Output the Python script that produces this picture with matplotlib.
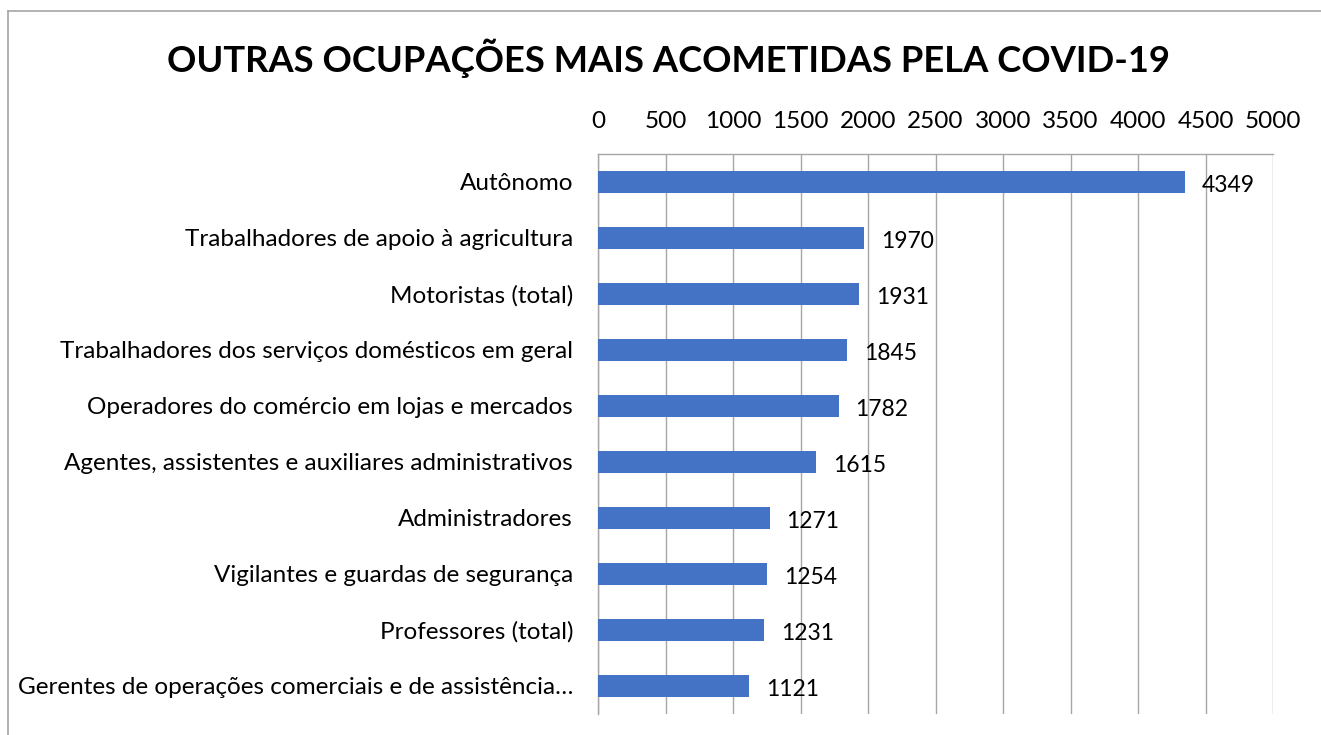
import matplotlib.pyplot as plt

# dados do gráfico
ocupacoes = [
    "Autônomo",
    "Trabalhadores de apoio à agricultura",
    "Motoristas (total)",
    "Trabalhadores dos serviços domésticos em geral",
    "Operadores do comércio em lojas e mercados",
    "Agentes, assistentes e auxiliares administrativos",
    "Administradores",
    "Vigilantes e guardas de segurança",
    "Professores (total)",
    "Gerentes de operações comerciais e de assistência…",
]
casos = [4349, 1970, 1931, 1845, 1782, 1615, 1271, 1254, 1231, 1121]
ticks_x = [0, 500, 1000, 1500, 2000, 2500, 3000, 3500, 4000, 4500, 5000]

plt.rcParams['font.family'] = ['Lato', 'DejaVu Sans']

fig = plt.figure(figsize=(13.21, 7.35), dpi=100)
W, H = 1321, 735

# borda do gráfico (só esquerda e topo aparecem)
fig.add_artist(plt.Line2D([8 / W, 8 / W], [0, 1 - 11 / H], color='#a6a6a6', lw=1.2))
fig.add_artist(plt.Line2D([8 / W, 1], [1 - 11 / H, 1 - 11 / H], color='#a6a6a6', lw=1.2))

ax = fig.add_axes([598 / W, 1 - 714 / H, (1273 - 598) / W, (714 - 154) / H])

y = list(range(len(ocupacoes)))
ax.barh(y, casos, height=0.4, color='#4472C4', zorder=3)
ax.set_ylim(len(ocupacoes) - 0.5, -0.5)
ax.set_xlim(0, 5000)

ax.set_xticks(ticks_x)
ax.set_xticklabels([str(t) for t in ticks_x])
ax.xaxis.tick_top()
ax.tick_params(axis='x', length=0, pad=16, labelsize=17.5)
ax.set_yticks(y)
ax.set_yticklabels(ocupacoes)
ax.tick_params(axis='y', length=0, pad=18, labelsize=17.5)

ax.grid(axis='x', color='#a6a6a6', lw=1, zorder=0)
for s in ['bottom', 'right']:
    ax.spines[s].set_visible(False)
for s in ['top', 'left']:
    ax.spines[s].set_color('#a6a6a6')
    ax.spines[s].set_linewidth(1)

for yi, v in zip(y, casos):
    ax.annotate(str(v), (v, yi), xytext=(17, -3), textcoords='offset pixels',
                va='center', ha='left', fontsize=16.5, zorder=5)

fig.text(668 / W, 1 - 58 / H, "OUTRAS OCUPAÇÕES MAIS ACOMETIDAS PELA COVID-19",
         ha='center', va='center', fontsize=26.2, fontweight='bold')

fig.savefig('out.png', dpi=100)
